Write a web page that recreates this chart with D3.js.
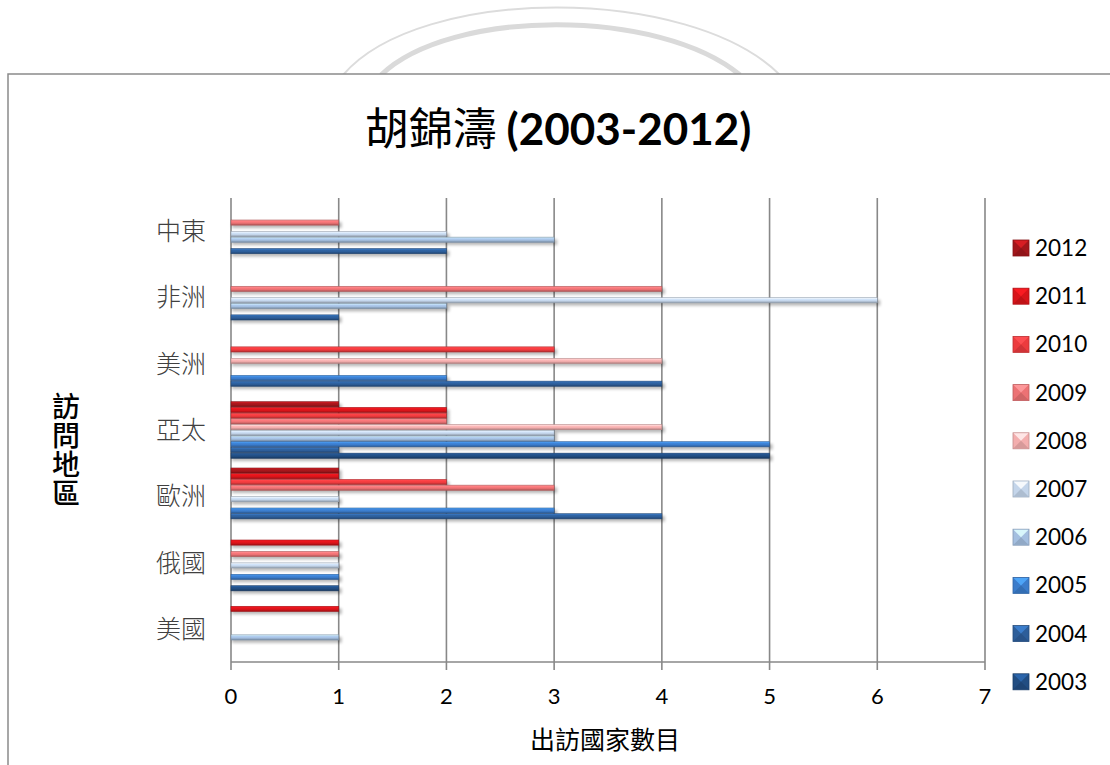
<!DOCTYPE html>
<html>
<head>
<meta charset="utf-8">
<script src="https://cdn.jsdelivr.net/npm/d3@7"></script>
<style>
  html, body { margin: 0; padding: 0; background: #fff; }
  svg { display: block; }
</style>
</head>
<body>
<svg id="chart" width="1110" height="765"></svg>
<script>
// Regions, listed top to bottom as drawn
const regions = ["中東", "非洲", "美洲", "亞太", "歐洲", "俄國", "美國"];
// Years, top of each group to bottom
const years = ["2012", "2011", "2010", "2009", "2008", "2007", "2006", "2005", "2004", "2003"];
// Countries visited per region, one array per year (same order as regions)
const v2012 = [0, 0, 0, 1, 1, 0, 0];
const v2011 = [0, 0, 0, 2, 1, 1, 1];
const v2010 = [0, 0, 3, 2, 2, 0, 0];
const v2009 = [1, 4, 0, 2, 3, 1, 0];
const v2008 = [0, 0, 4, 4, 0, 0, 0];
const v2007 = [2, 6, 0, 3, 1, 1, 0];
const v2006 = [3, 2, 0, 3, 0, 0, 1];
const v2005 = [0, 0, 2, 5, 3, 1, 0];
const v2004 = [2, 1, 4, 1, 4, 0, 0];
const v2003 = [0, 0, 0, 5, 0, 1, 0];
const xTicks = [0, 1, 2, 3, 4, 5, 6, 7];

const seriesValues = {
  "2012": v2012, "2011": v2011, "2010": v2010, "2009": v2009, "2008": v2008,
  "2007": v2007, "2006": v2006, "2005": v2005, "2004": v2004, "2003": v2003
};
const palette = {
  "2012": "#a3161b", "2011": "#d8141a", "2010": "#ec3b3e", "2009": "#ec7274",
  "2008": "#f3aeae", "2007": "#c4d5ea", "2006": "#a4bfe0", "2005": "#3b7ccb",
  "2004": "#2d5e9a", "2003": "#214d82"
};

const svg = d3.select("#chart");
const defs = svg.append("defs");

svg.append("rect").attr("width", 1110).attr("height", 765).attr("fill", "#fff");

// decorative arcs above the frame
svg.append("path")
  .attr("d", "M343,75 C420,-15 690,-15 780,75")
  .attr("fill", "none").attr("stroke", "#dcdcdc").attr("stroke-width", 2);
svg.append("path")
  .attr("d", "M381,75 C450,8 660,8 740,75")
  .attr("fill", "none").attr("stroke", "#dadada").attr("stroke-width", 5);

// chart frame
svg.append("rect")
  .attr("x", 8).attr("y", 74).attr("width", 1200).attr("height", 800)
  .attr("fill", "#fff").attr("stroke", "#8a8a8a").attr("stroke-width", 1.5);

// shadow filter for bars
const f = defs.append("filter").attr("id", "shadow")
  .attr("x", "-5%").attr("y", "-100%").attr("width", "110%").attr("height", "300%");
f.append("feGaussianBlur").attr("stdDeviation", 1.6);

// bevelled gradients per year
years.forEach(y => {
  const c = d3.color(palette[y]);
  const g = defs.append("linearGradient").attr("id", "g" + y)
    .attr("x1", 0).attr("y1", 0).attr("x2", 0).attr("y2", 1);
  g.append("stop").attr("offset", "0%").attr("stop-color", c.brighter(0.9));
  g.append("stop").attr("offset", "30%").attr("stop-color", c.brighter(0.2));
  g.append("stop").attr("offset", "60%").attr("stop-color", c);
  g.append("stop").attr("offset", "100%").attr("stop-color", c.darker(0.9));
});

// title
const title = svg.append("text")
  .attr("x", 558).attr("y", 145).attr("text-anchor", "middle")
  .attr("font-size", 44).attr("fill", "#000");
title.append("tspan").attr("font-family", "'Noto Sans CJK TC', sans-serif").text("胡錦濤 ");
title.append("tspan").attr("font-family", "Lato, 'Open Sans', sans-serif")
  .attr("font-weight", "bold").text("(2003-2012)");

// scales
const x = d3.scaleLinear().domain([0, 7]).range([231, 985]);
const y = d3.scaleBand().domain(regions).range([198, 662]);
const yInner = d3.scaleBand().domain(years).range([0, y.bandwidth()])
  .paddingInner(0).paddingOuter(0.8);

// vertical gridlines with tick marks
svg.append("g").selectAll("line").data(xTicks).join("line")
  .attr("x1", d => x(d)).attr("x2", d => x(d))
  .attr("y1", 198).attr("y2", 670)
  .attr("stroke", "#888").attr("stroke-width", 1.6);
// horizontal axis line
svg.append("line")
  .attr("x1", x(0)).attr("x2", x(7)).attr("y1", 662).attr("y2", 662)
  .attr("stroke", "#888").attr("stroke-width", 1.6);

// tick labels
svg.append("g").selectAll("text").data(xTicks).join("text")
  .attr("x", d => x(d)).attr("y", 704).attr("text-anchor", "middle")
  .attr("font-family", "Lato, 'Open Sans', sans-serif").attr("font-size", 22)
  .attr("fill", "#000").text(d => d);

// region labels
svg.append("g").selectAll("text").data(regions).join("text")
  .attr("x", 206).attr("y", d => y(d) + y.bandwidth() / 2 + 9)
  .attr("text-anchor", "end")
  .attr("font-family", "'Noto Sans CJK TC', sans-serif").attr("font-weight", 300)
  .attr("font-size", 25).attr("fill", "#404040").text(d => d);

// bars
const barData = [];
years.forEach(yr => {
  seriesValues[yr].forEach((v, i) => {
    if (v > 0) barData.push({ year: yr, region: regions[i], value: v });
  });
});
const bh = yInner.bandwidth();
const barG = svg.append("g");
// shadows first
barG.selectAll("rect.shadow").data(barData).join("rect").attr("class", "shadow")
  .attr("x", x(0) + 1)
  .attr("y", d => y(d.region) + yInner(d.year) + 2.5)
  .attr("width", d => x(d.value) - x(0) + 2)
  .attr("height", bh)
  .attr("fill", "#000").attr("opacity", 0.28).attr("filter", "url(#shadow)");
barG.selectAll("rect.bar").data(barData).join("rect").attr("class", "bar")
  .attr("x", x(0))
  .attr("y", d => y(d.region) + yInner(d.year) + 0.3)
  .attr("width", d => x(d.value) - x(0))
  .attr("height", bh - 0.6)
  .attr("fill", d => "url(#g" + d.year + ")")
  .attr("stroke", d => d3.color(palette[d.year]).darker(0.8))
  .attr("stroke-width", 0.6);

// legend
const lg = svg.append("g").selectAll("g").data(years).join("g")
  .attr("transform", (d, i) => `translate(1013, ${248 + i * 48.2})`);
lg.append("rect").attr("x", 0).attr("y", -8).attr("width", 16).attr("height", 16)
  .attr("fill", d => palette[d]).attr("stroke", d => d3.color(palette[d]).darker(0.6))
  .attr("stroke-width", 0.8);
lg.append("path").attr("d", "M0.5,-7.5 L15.5,-7.5 L8,0 Z")
  .attr("fill", d => d3.color(palette[d]).brighter(0.9)).attr("opacity", 0.85);
lg.append("path").attr("d", "M0.5,7.5 L15.5,7.5 L8,0 Z")
  .attr("fill", d => d3.color(palette[d]).darker(0.5)).attr("opacity", 0.7);
lg.append("text").attr("x", 22).attr("y", 8)
  .attr("font-family", "Lato, 'Open Sans', sans-serif").attr("font-size", 22.5)
  .attr("fill", "#000").text(d => d);

// axis titles
svg.append("text").attr("x", 605).attr("y", 749).attr("text-anchor", "middle")
  .attr("font-family", "'Noto Sans CJK TC', sans-serif").attr("font-size", 25)
  .attr("fill", "#000").text("出訪國家數目");

svg.append("text")
  .attr("x", 66).attr("y", 450)
  .attr("text-anchor", "middle")
  .style("writing-mode", "vertical-rl")
  .style("text-orientation", "upright")
  .attr("letter-spacing", 1)
  .attr("font-family", "'Noto Sans CJK TC', sans-serif").attr("font-weight", 500)
  .attr("font-size", 28).attr("fill", "#000")
  .text("訪問地區");
</script>
</body>
</html>
